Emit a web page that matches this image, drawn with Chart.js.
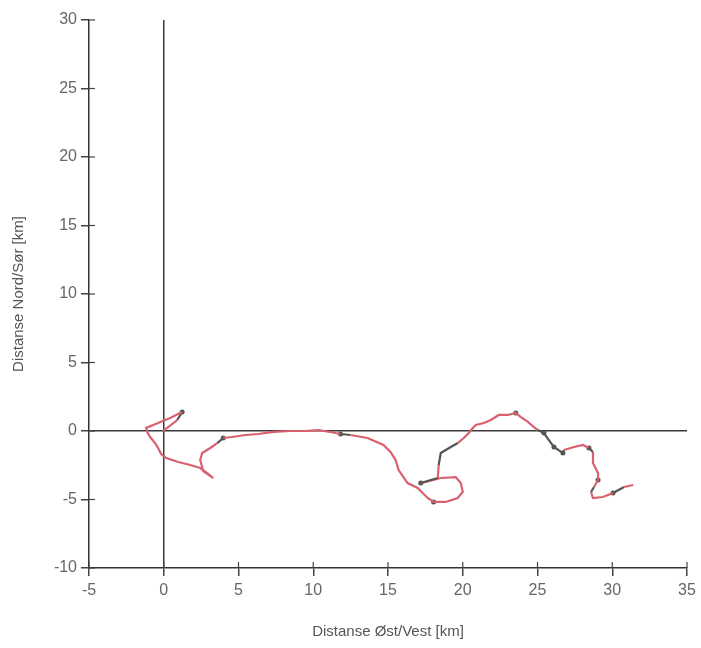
<!DOCTYPE html>
<html lang="no">
<head>
  <meta charset="UTF-8" />
  <title>Distanse Øst/Vest vs Nord/Sør</title>
  <script src="https://cdn.jsdelivr.net/npm/chart.js"></script>
  <style>
    html, body { margin: 0; padding: 0; background: #fff; }
    #wrap { width: 701px; height: 648px; position: relative; }
  </style>
</head>
<body>
  <div id="wrap"><canvas id="track"></canvas></div>

  <script>
    // track, km
    const eastKm = [
      -0.04, 0.90, 1.23, 0.43, -0.38, -1.18, -1.11, -0.91, -0.58, -0.38,
      -0.17, 0.16, 0.97, 1.77, 2.44, 2.91, 3.31, 2.64, 2.44, 2.57,
      3.11, 3.58, 3.98, 4.58, 5.46, 6.33, 7.33, 8.47, 9.48, 10.35,
      11.15, 11.82, 12.49, 13.63, 14.70, 15.17, 15.51, 15.71, 16.31, 16.98,
      17.65, 18.05, 18.86, 19.66, 20.00, 19.87, 19.53, 18.53, 17.19, 18.33,
      18.39, 18.53, 19.20, 19.67, 20.07, 20.40, 20.67, 20.87, 21.41, 21.88,
      22.41, 23.02, 23.55, 23.89, 24.36, 24.76, 25.03, 25.43, 25.76, 26.10,
      26.70, 26.77, 27.44, 28.04, 28.44, 28.71, 28.71, 29.05, 29.05, 28.78,
      28.58, 28.71, 29.38, 30.05, 30.79, 31.40
    ];
    const northKm = [
      0.00, 0.80, 1.39, 0.95, 0.58, 0.22, -0.07, -0.44, -0.88, -1.24,
      -1.68, -1.97, -2.26, -2.48, -2.70, -3.07, -3.43, -2.92, -2.12, -1.61,
      -1.24, -0.88, -0.51, -0.44, -0.29, -0.22, -0.07, 0.00, 0.00, 0.07,
      -0.07, -0.22, -0.29, -0.51, -1.02, -1.53, -2.12, -2.85, -3.80, -4.16,
      -4.89, -5.18, -5.18, -4.89, -4.45, -3.80, -3.36, -3.43, -3.80, -3.43,
      -2.48, -1.61, -1.17, -0.88, -0.51, -0.15, 0.22, 0.44, 0.58, 0.80,
      1.17, 1.17, 1.31, 1.02, 0.66, 0.29, 0.07, -0.15, -0.66, -1.17,
      -1.61, -1.39, -1.17, -1.02, -1.24, -1.53, -2.34, -3.07, -3.58, -4.09,
      -4.45, -4.89, -4.82, -4.53, -4.09, -3.94
    ];
    // segments drawn dark grey in the original (start index of segment)
    const darkSegments = [1, 21, 31, 48, 50, 51, 52, 66, 67, 68, 69, 70, 74, 79, 83];
    // dark blobs along the track (point index)
    const markerIdx = [2, 22, 31, 41, 48, 62, 67, 69, 70, 74, 78, 83];

    const xMin = -5, xMax = 35, xStep = 5;
    const yMin = -10, yMax = 30, yStep = 5;

    const trackPoints = eastKm.map((x, i) => ({ x: x, y: northKm[i] }));
    const markerPoints = markerIdx.map(i => ({ x: eastKm[i], y: northKm[i] }));

    const zeroLine = ctx => ctx.tick && ctx.tick.value === 0 ? '#3a3a3a' : 'rgba(0,0,0,0)';
    const tickFont = { family: 'Liberation Sans, Arial, sans-serif', size: 16 };
    const titleFont = { family: 'Liberation Sans, Arial, sans-serif', size: 15 };

    // short tick marks on the inner side of the axes, like the original
    const innerTicks = {
      id: 'innerTicks',
      afterDraw(chart) {
        const c = chart.ctx, a = chart.chartArea;
        c.save();
        c.strokeStyle = '#444';
        c.lineWidth = 1.2;
        chart.scales.x.ticks.forEach(t => {
          const px = chart.scales.x.getPixelForValue(t.value);
          c.beginPath(); c.moveTo(px, a.bottom); c.lineTo(px, a.bottom - 6); c.stroke();
        });
        chart.scales.y.ticks.forEach(t => {
          const py = chart.scales.y.getPixelForValue(t.value);
          c.beginPath(); c.moveTo(a.left, py); c.lineTo(a.left + 6, py); c.stroke();
        });
        c.restore();
      }
    };

    new Chart(document.getElementById('track'), {
      type: 'scatter',
      data: {
        datasets: [
          {
            label: 'Spor',
            data: trackPoints,
            showLine: true,
            borderColor: '#d9606f',
            borderWidth: 2.2,
            pointRadius: 0,
            tension: 0,
            segment: {
              borderColor: c => darkSegments.includes(c.p0DataIndex) ? '#555' : undefined
            }
          },
          {
            label: 'Markører',
            data: markerPoints,
            showLine: false,
            pointRadius: 2.5,
            pointBackgroundColor: '#555',
            pointBorderWidth: 0
          }
        ]
      },
      options: {
        responsive: true,
        maintainAspectRatio: false,
        animation: false,
        layout: { padding: { top: 20, right: 14, left: 0, bottom: 0 } },
        plugins: { legend: { display: false }, tooltip: { enabled: false } },
        scales: {
          x: {
            type: 'linear',
            min: xMin, max: xMax,
            ticks: { stepSize: xStep, color: '#666', font: tickFont, padding: 5, maxRotation: 0 },
            grid: { color: zeroLine, lineWidth: 1.5, tickColor: '#444', tickLength: 8 },
            border: { display: true, color: '#333', width: 1.5 },
            title: { display: true, text: 'Distanse Øst/Vest [km]', color: '#555', font: titleFont, padding: { top: 10, bottom: 7 } },
            afterFit: s => { s.height = 80; }
          },
          y: {
            type: 'linear',
            min: yMin, max: yMax,
            ticks: { stepSize: yStep, color: '#666', font: tickFont, padding: 4 },
            grid: { color: zeroLine, lineWidth: 1.5, tickColor: '#444', tickLength: 8 },
            border: { display: true, color: '#333', width: 1.5 },
            title: { display: true, text: 'Distanse Nord/Sør [km]', color: '#555', font: titleFont, padding: { top: 10, bottom: 4 } },
            afterFit: s => { s.width = 89; }
          }
        }
      },
      plugins: [innerTicks]
    });
  </script>
</body>
</html>
